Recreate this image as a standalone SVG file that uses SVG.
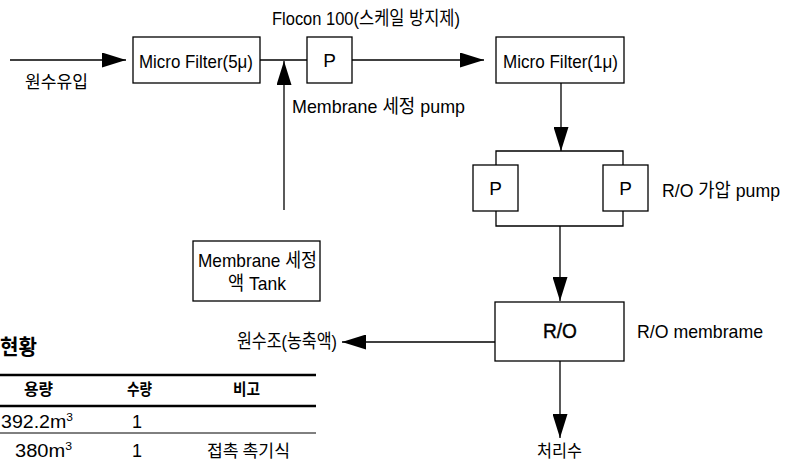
<svg xmlns="http://www.w3.org/2000/svg" width="796" height="463" viewBox="0 0 796 463">
<style>
.box{fill:#fff;stroke:#000;stroke-width:1.3}
.ln{fill:none;stroke:#000;stroke-width:1.3}
text{font-family:"Liberation Sans","Noto Sans CJK KR",sans-serif;fill:#000;font-size:19px}
.k{font-family:"Noto Sans CJK KR","Liberation Sans",sans-serif;font-size:17px}
.b{font-weight:bold}
.c{text-anchor:middle}
</style>
<defs>
<marker id="ah" markerUnits="userSpaceOnUse" markerWidth="24" markerHeight="15" refX="24" refY="7.5" orient="auto">
<path d="M0,0 L24,7.5 L0,15 z" fill="#000"/>
</marker>
</defs>
<rect width="796" height="463" fill="#fff"/>
<g id="connectors">
<line class="ln" x1="10" y1="60" x2="126" y2="60" marker-end="url(#ah)"/>
<line class="ln" x1="260" y1="60" x2="307" y2="60"/>
<line class="ln" x1="284" y1="210" x2="284" y2="61" marker-end="url(#ah)"/>
<line class="ln" x1="352" y1="60" x2="484" y2="60" marker-end="url(#ah)"/>
<line class="ln" x1="561" y1="83" x2="561" y2="151" marker-end="url(#ah)"/>
<polyline class="ln" points="496,165 496,151 623,151 623,165"/>
<polyline class="ln" points="496,211 496,226 623,226 623,211"/>
<line class="ln" x1="560" y1="226" x2="560" y2="301" marker-end="url(#ah)"/>
<line class="ln" x1="495" y1="342" x2="342" y2="342" marker-end="url(#ah)"/>
<line class="ln" x1="560" y1="361" x2="560" y2="438" marker-end="url(#ah)"/>
</g>
<g id="inlet"><text class="k" x="25" y="88" textLength="63" lengthAdjust="spacingAndGlyphs">원수유입</text></g>
<g id="mf5">
<rect class="box" x="133" y="37" width="127" height="46"/>
<text x="139" y="68" textLength="114" lengthAdjust="spacingAndGlyphs">Micro Filter(5μ)</text>
</g>
<g id="flocon"><text x="272" y="25" textLength="188" lengthAdjust="spacingAndGlyphs">Flocon 100(스케일 방지제)</text></g>
<g id="pump1">
<rect class="box" x="307" y="37" width="45" height="46"/>
<text class="c" x="329.5" y="67">P</text>
</g>
<g id="cleanpump"><text x="292" y="113" textLength="173" lengthAdjust="spacingAndGlyphs">Membrane 세정 pump</text></g>
<g id="mf1">
<rect class="box" x="496" y="37" width="128" height="46"/>
<text x="503" y="68" textLength="115" lengthAdjust="spacingAndGlyphs">Micro Filter(1μ)</text>
</g>
<g id="pumpL">
<rect class="box" x="473" y="165" width="45" height="46"/>
<text class="c" x="495.5" y="195">P</text>
</g>
<g id="pumpR">
<rect class="box" x="603" y="165" width="45" height="46"/>
<text class="c" x="625.5" y="195">P</text>
</g>
<g id="rolabel"><text x="662" y="197" textLength="118" lengthAdjust="spacingAndGlyphs">R/O 가압 pump</text></g>
<g id="tank">
<rect class="box" x="193" y="241" width="127" height="60"/>
<text x="198" y="267" textLength="119" lengthAdjust="spacingAndGlyphs">Membrane 세정</text>
<text x="228" y="290" textLength="58" lengthAdjust="spacingAndGlyphs">액 Tank</text>
</g>
<g id="ro">
<rect class="box" x="495" y="302" width="129" height="59"/>
<text x="543" y="338" textLength="34" lengthAdjust="spacingAndGlyphs" style="font-size:20px;stroke:#000;stroke-width:0.4">R/O</text>
</g>
<g id="romem"><text x="637" y="338" textLength="126" lengthAdjust="spacingAndGlyphs">R/O membrame</text></g>
<g id="conc"><text x="237" y="348" textLength="100" lengthAdjust="spacingAndGlyphs">원수조(농축액)</text></g>
<g id="treated"><text class="k" x="537" y="457" textLength="45" lengthAdjust="spacingAndGlyphs">처리수</text></g>
<g id="table">
<text class="k b" x="0" y="354" style="font-size:21px" textLength="37" lengthAdjust="spacingAndGlyphs">현황</text>
<line x1="0" y1="375" x2="316" y2="375" stroke="#000" stroke-width="2.5"/>
<line x1="0" y1="406" x2="316" y2="406" stroke="#000" stroke-width="2.5"/>
<line x1="0" y1="433" x2="316" y2="433" stroke="#000" stroke-width="1"/>
<text class="k b" x="24" y="395" style="font-size:16px" textLength="29" lengthAdjust="spacingAndGlyphs">용량</text>
<text class="k b" x="127" y="395" style="font-size:16px" textLength="25" lengthAdjust="spacingAndGlyphs">수량</text>
<text class="k b" x="233" y="395" style="font-size:16px" textLength="27" lengthAdjust="spacingAndGlyphs">비고</text>
<text x="1" y="428" textLength="72" lengthAdjust="spacingAndGlyphs" style="font-size:18px">392.2m<tspan dy="-7" style="font-size:11px">3</tspan></text>
<text class="c" x="137" y="428" style="font-size:18px">1</text>
<text x="15" y="457" textLength="57" lengthAdjust="spacingAndGlyphs" style="font-size:18px">380m<tspan dy="-7" style="font-size:11px">3</tspan></text>
<text class="c" x="137" y="457" style="font-size:18px">1</text>
<text class="k" x="207" y="457" textLength="83" lengthAdjust="spacingAndGlyphs">접촉 촉기식</text>
</g>
</svg>
